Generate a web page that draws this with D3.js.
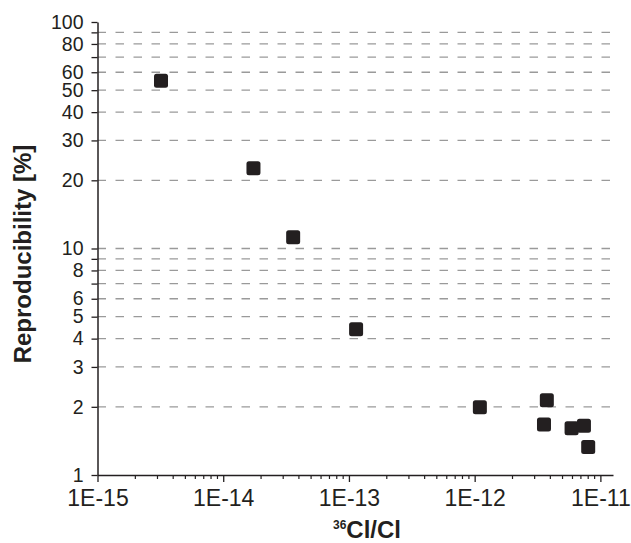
<!DOCTYPE html>
<html>
<head>
<meta charset="utf-8">
<script src="https://cdn.jsdelivr.net/npm/d3@7"></script>
<style>
  html, body { margin: 0; padding: 0; background: #fff; }
  svg { display: block; font-family: "Liberation Sans", Arial, Helvetica, sans-serif; }
</style>
</head>
<body>
<svg id="chart" width="631" height="543"></svg>
<script>
// ---- data ----
const ratioValues = [3.2e-15, 1.74e-14, 3.6e-14, 1.14e-13, 1.10e-12, 3.75e-12, 3.56e-12, 5.9e-12, 7.4e-12, 8.0e-12];
const reproValues = [55, 22.6, 11.2, 4.4, 1.99, 2.14, 1.67, 1.61, 1.65, 1.33];
const xMajorTicks = [1e-15, 1e-14, 1e-13, 1e-12, 1e-11];
const xTickLabels = ["1E-15", "1E-14", "1E-13", "1E-12", "1E-11"];
const yTicks = [1, 2, 3, 4, 5, 6, 7, 8, 9, 10, 20, 30, 40, 50, 60, 70, 80, 90, 100];
const yTickLabels = ["1", "2", "3", "4", "5", "6", "", "8", "", "10", "20", "30", "40", "50", "60", "", "80", "", "100"];
const xTitleSup = "36";
const xTitleMain = "Cl/Cl";
const yTitle = "Reproducibility [%]";

// ---- layout ----
const svg = d3.select("#chart");
const ink = "#231f20";
const plotLeft = 97.5, plotRight = 613, plotTop = 22, plotBottom = 475;

const x = d3.scaleLog().domain([1e-15, 1.26e-11]).range([plotLeft, plotRight]);
const y = d3.scaleLog().domain([1, 100]).range([plotBottom, plotTop]);

// gridlines
svg.append("g").selectAll("line")
  .data(yTicks.filter(v => v !== 1 && v !== 100))
  .join("line")
  .attr("x1", plotLeft).attr("x2", plotRight)
  .attr("y1", d => y(d)).attr("y2", d => y(d))
  .attr("stroke", "#9a9a9a").attr("stroke-width", 1.3)
  .attr("stroke-dasharray", "8.5,9.5");

// x minor ticks
const xMinor = [];
for (let e = -15; e <= -12; e++) for (let k = 2; k <= 9; k++) {
  const v = k * Math.pow(10, e);
  if (v <= x.domain()[1]) xMinor.push(v);
}
svg.append("g").selectAll("line").data(xMinor).join("line")
  .attr("x1", d => x(d)).attr("x2", d => x(d))
  .attr("y1", plotBottom).attr("y2", plotBottom + 4)
  .attr("stroke", ink).attr("stroke-width", 1.2);

// x axis
const xAxis = d3.axisBottom(x).tickValues(xMajorTicks)
  .tickFormat((d, i) => xTickLabels[i]).tickSize(7).tickSizeOuter(0).tickPadding(8);
const gx = svg.append("g").attr("transform", `translate(0,${plotBottom})`).call(xAxis);
gx.select(".domain").attr("stroke", ink).attr("stroke-width", 1.5);
gx.selectAll(".tick line").attr("stroke", ink).attr("stroke-width", 1.3);
gx.selectAll(".tick text").attr("fill", ink).attr("font-size", 23)
  .attr("font-family", "Liberation Sans, Arial, sans-serif");

// y axis
const yAxis = d3.axisLeft(y).tickValues(yTicks)
  .tickFormat((d, i) => yTickLabels[i]).tickSize(6).tickSizeOuter(0).tickPadding(8);
const gy = svg.append("g").attr("transform", `translate(${plotLeft},0)`).call(yAxis);
gy.select(".domain").attr("stroke", ink).attr("stroke-width", 1.5);
gy.selectAll(".tick line").attr("stroke", ink).attr("stroke-width", 1.3);
gy.selectAll(".tick text").attr("fill", ink).attr("font-size", 19.5)
  .attr("font-family", "Liberation Sans, Arial, sans-serif");

// markers
const s = 14;
svg.append("g").selectAll("rect")
  .data(ratioValues.map((v, i) => [v, reproValues[i]]))
  .join("rect")
  .attr("x", d => x(d[0]) - s / 2)
  .attr("y", d => y(d[1]) - s / 2)
  .attr("width", s).attr("height", s)
  .attr("rx", 2.5).attr("ry", 2.5)
  .attr("fill", ink);

// axis titles
const xt = svg.append("text")
  .attr("x", 367).attr("y", 538)
  .attr("text-anchor", "middle")
  .attr("fill", ink).attr("font-weight", "bold");
xt.append("tspan").attr("font-size", 12).attr("dy", -9).text(xTitleSup);
xt.append("tspan").attr("font-size", 24).attr("dy", 9).text(xTitleMain);

svg.append("text")
  .attr("transform", "translate(31,254) rotate(-90)")
  .attr("text-anchor", "middle")
  .attr("fill", ink).attr("font-weight", "bold").attr("font-size", 24)
  .text(yTitle);
</script>
</body>
</html>
